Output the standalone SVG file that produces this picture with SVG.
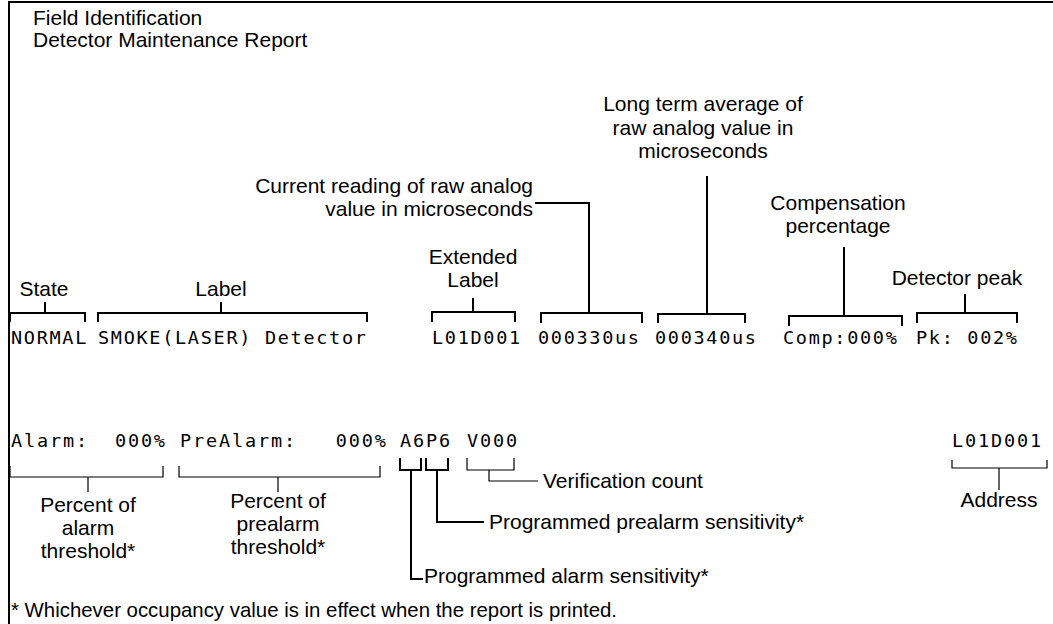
<svg xmlns="http://www.w3.org/2000/svg" width="1053" height="624" viewBox="0 0 1053 624">
<style>
.lbl{font-family:"Liberation Sans",Arial,sans-serif;font-size:21px;fill:#000}
.fn{font-size:20.4px}
.mid{text-anchor:middle}
.end{text-anchor:end}
.mono{font-family:"DejaVu Sans Mono",monospace;font-size:18.5px;letter-spacing:1.85px;fill:#000}
.r1{letter-spacing:1.7px}
.b2{stroke:#000;stroke-width:2;fill:none}
.b1{stroke:#000;stroke-width:1.2;fill:none}
.frame{stroke:#000;stroke-width:2;fill:none}
</style>
<rect width="1053" height="624" fill="#fff"/>
<path class="frame" d="M9,624 V2 H1053"/>

<g id="header">
<text class="lbl" x="33" y="25">Field Identification</text>
<text class="lbl" x="33" y="47">Detector Maintenance Report</text>
</g>

<g id="state">
<text class="lbl mid" x="44" y="296">State</text>
<text class="mono r1" x="11" y="344">NORMAL</text>
</g>
<g id="label">
<text class="lbl mid" x="221" y="296">Label</text>
<text class="mono r1" x="98" y="344">SMOKE(LASER) Detector</text>
</g>
<g id="extended-label">
<text class="lbl mid" x="473" y="264">Extended</text>
<text class="lbl mid" x="473" y="287">Label</text>
<text class="mono r1" x="432" y="344">L01D001</text>
</g>
<g id="current-reading">
<text class="lbl end" x="533" y="193">Current reading of raw analog</text>
<text class="lbl end" x="533" y="216">value in microseconds</text>
<text class="mono r1" x="538" y="344">000330us</text>
</g>
<g id="long-term-average">
<text class="lbl mid" x="703" y="111">Long term average of</text>
<text class="lbl mid" x="703" y="135">raw analog value in</text>
<text class="lbl mid" x="703" y="158">microseconds</text>
<text class="mono r1" x="655" y="344">000340us</text>
</g>
<g id="compensation">
<text class="lbl mid" x="838" y="210">Compensation</text>
<text class="lbl mid" x="838" y="233">percentage</text>
<text class="mono r1" x="783" y="344">Comp:000%</text>
</g>
<g id="detector-peak">
<text class="lbl mid" x="957" y="285">Detector peak</text>
<text class="mono r1" x="916" y="344" xml:space="preserve">Pk: 002%</text>
</g>

<g id="alarm">
<text class="mono" x="11" y="447" xml:space="preserve">Alarm:  000%</text>
<text class="lbl mid" x="88" y="512">Percent of</text>
<text class="lbl mid" x="88" y="535">alarm</text>
<text class="lbl mid" x="88" y="558">threshold*</text>
</g>
<g id="prealarm">
<text class="mono" x="180" y="447" xml:space="preserve">PreAlarm:   000%</text>
<text class="lbl mid" x="278" y="508">Percent of</text>
<text class="lbl mid" x="278" y="531">prealarm</text>
<text class="lbl mid" x="278" y="554">threshold*</text>
</g>
<g id="alarm-sensitivity">
<text class="mono" x="400" y="447">A6</text>
<text class="lbl" x="424" y="583">Programmed alarm sensitivity*</text>
</g>
<g id="prealarm-sensitivity">
<text class="mono" x="426" y="447">P6</text>
<text class="lbl" x="489" y="529">Programmed prealarm sensitivity*</text>
</g>
<g id="verification">
<text class="mono" x="467" y="447">V000</text>
<text class="lbl" x="543" y="488">Verification count</text>
</g>
<g id="address">
<text class="mono" x="952" y="447">L01D001</text>
<text class="lbl mid" x="999" y="507">Address</text>
</g>
<g id="footnote">
<text class="lbl fn" x="11" y="617">* Whichever occupancy value is in effect when the report is printed.</text>
</g>

<g id="connectors">
<path class="b2" d="M10,322 V313 H85 V322 M45,313 V302"/>
<path class="b2" d="M98,322 V313 H367 V322 M221,313 V302"/>
<path class="b2" d="M432,322 V312 H515 V322 M473,312 V298"/>
<path class="b2" d="M541,323 V313 H642 V323 M589,313 V203 H535"/>
<path class="b2" d="M658,323 V314 H745 V323 M707,314 V176"/>
<path class="b2" d="M789,326 V316 H902 V326 M844,316 V247"/>
<path class="b2" d="M917,323 V313 H1017 V323 M965,313 V294"/>
<path class="b1" d="M10,466 V477 H163 V466 M88,477 V492"/>
<path class="b1" d="M179,466 V477 H380 V466 M278,477 V492"/>
<path class="b2" d="M400,458 V470 H421 V458 M411,470 V579 H423"/>
<path class="b2" d="M426,458 V470 H448 V458 M437,470 V522 H484"/>
<path class="b1" d="M467,458 V470 H514 V458 M489,470 V481 H538"/>
<path class="b1" d="M952,460 V468 H1047 V460 M999,468 V490"/>
</g>
</svg>
